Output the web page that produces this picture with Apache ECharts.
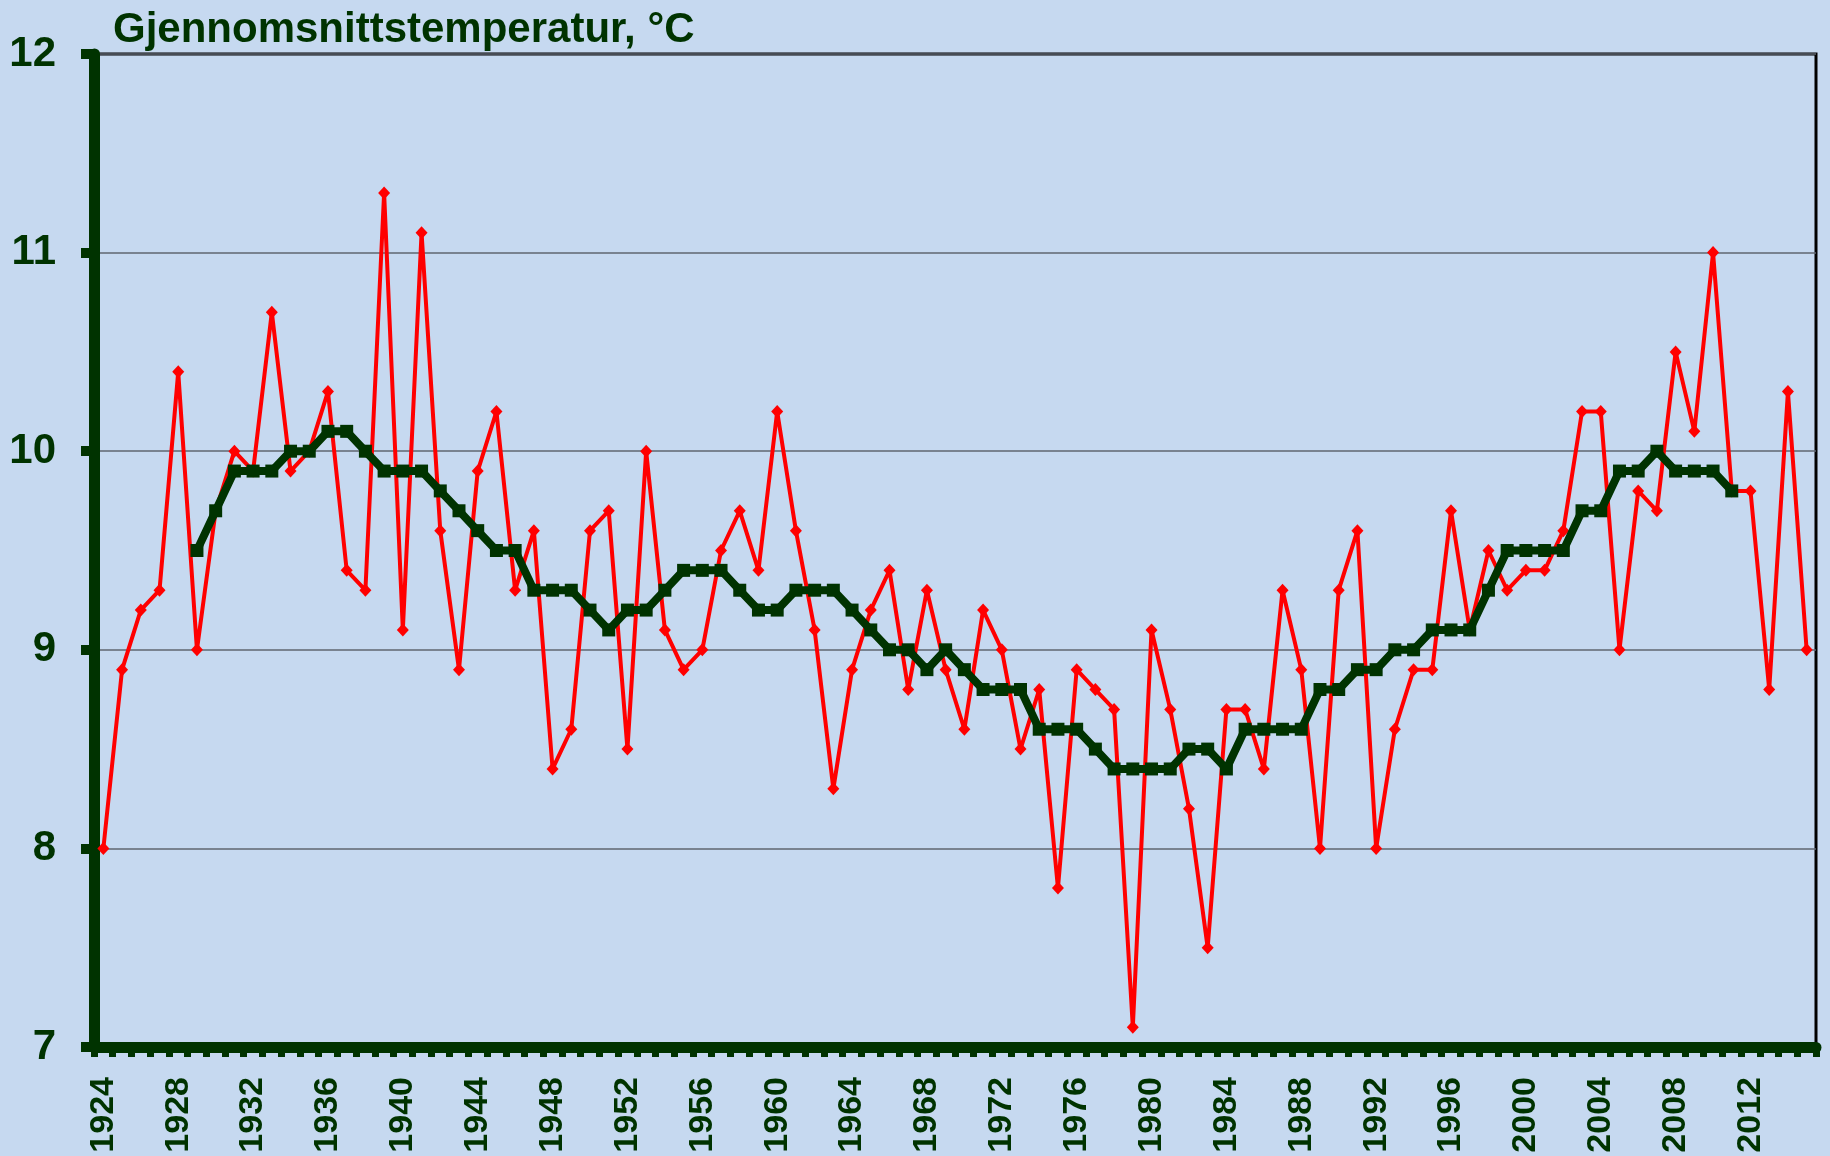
<!DOCTYPE html>
<html>
<head>
<meta charset="utf-8">
<script src="https://cdn.jsdelivr.net/npm/echarts@6/dist/echarts.min.js"></script>
<style>
html,body{margin:0;padding:0;background:#C6D9F0;}
#chart{width:1830px;height:1156px;}
</style>
</head>
<body>
<div id="chart"></div>
<script>
const titleText = 'Gjennomsnittstemperatur, °C';
const years = ['1924','1925','1926','1927','1928','1929','1930','1931','1932','1933',
'1934','1935','1936','1937','1938','1939','1940','1941','1942','1943',
'1944','1945','1946','1947','1948','1949','1950','1951','1952','1953',
'1954','1955','1956','1957','1958','1959','1960','1961','1962','1963',
'1964','1965','1966','1967','1968','1969','1970','1971','1972','1973',
'1974','1975','1976','1977','1978','1979','1980','1981','1982','1983',
'1984','1985','1986','1987','1988','1989','1990','1991','1992','1993',
'1994','1995','1996','1997','1998','1999','2000','2001','2002','2003',
'2004','2005','2006','2007','2008','2009','2010','2011','2012','2013',
'2014','2015'];
const annualTemp = [
8.0, 8.9, 9.2, 9.3, 10.4, 9.0, 9.7, 10.0, 9.9, 10.7,
9.9, 10.0, 10.3, 9.4, 9.3, 11.3, 9.1, 11.1, 9.6, 8.9,
9.9, 10.2, 9.3, 9.6, 8.4, 8.6, 9.6, 9.7, 8.5, 10.0,
9.1, 8.9, 9.0, 9.5, 9.7, 9.4, 10.2, 9.6, 9.1, 8.3,
8.9, 9.2, 9.4, 8.8, 9.3, 8.9, 8.6, 9.2, 9.0, 8.5,
8.8, 7.8, 8.9, 8.8, 8.7, 7.1, 9.1, 8.7, 8.2, 7.5,
8.7, 8.7, 8.4, 9.3, 8.9, 8.0, 9.3, 9.6, 8.0, 8.6,
8.9, 8.9, 9.7, 9.1, 9.5, 9.3, 9.4, 9.4, 9.6, 10.2,
10.2, 9.0, 9.8, 9.7, 10.5, 10.1, 11.0, 9.8, 9.8, 8.8,
10.3, 9.0];
const movingAvg = [
null, null, null, null, null,
9.5, 9.7, 9.9, 9.9, 9.9, 10.0, 10.0, 10.1, 10.1, 10.0,
9.9, 9.9, 9.9, 9.8, 9.7, 9.6, 9.5, 9.5, 9.3, 9.3,
9.3, 9.2, 9.1, 9.2, 9.2, 9.3, 9.4, 9.4, 9.4, 9.3,
9.2, 9.2, 9.3, 9.3, 9.3, 9.2, 9.1, 9.0, 9.0, 8.9,
9.0, 8.9, 8.8, 8.8, 8.8, 8.6, 8.6, 8.6, 8.5, 8.4,
8.4, 8.4, 8.4, 8.5, 8.5, 8.4, 8.6, 8.6, 8.6, 8.6,
8.8, 8.8, 8.9, 8.9, 9.0, 9.0, 9.1, 9.1, 9.1, 9.3,
9.5, 9.5, 9.5, 9.5, 9.7, 9.7, 9.9, 9.9, 10.0, 9.9,
9.9, 9.9, 9.8,
null, null, null, null];
const yMin = 7, yMax = 12, yStep = 1;

const dark = '#003300';
const chart = echarts.init(document.getElementById('chart'), null, {renderer: 'canvas'});
chart.setOption({
  backgroundColor: '#C6D9F0',
  animation: false,
  title: {
    text: titleText,
    left: 108,
    top: 4,
    textStyle: {fontFamily: 'Liberation Sans, Arial, sans-serif', fontWeight: 'bold', fontSize: 42, color: dark}
  },
  grid: {
    left: 94, right: 14, top: 54, bottom: 109,
    show: true, borderColor: '#000000', borderWidth: 3, backgroundColor: 'transparent'
  },
  xAxis: {
    type: 'category',
    data: years,
    boundaryGap: true,
    axisLine: {show: true, lineStyle: {color: dark, width: 11}},
    axisTick: {show: true, interval: 0, length: 10, lineStyle: {color: dark, width: 7}},
    axisLabel: {
      interval: 3, rotate: 90, margin: 30,
      fontFamily: 'Liberation Sans, Arial, sans-serif', fontWeight: 'bold', fontSize: 34, color: dark
    },
    splitLine: {show: false}
  },
  yAxis: {
    type: 'value',
    min: yMin, max: yMax, interval: yStep,
    axisLine: {show: true, onZero: false, lineStyle: {color: dark, width: 11}},
    axisTick: {show: true, length: 13, lineStyle: {color: dark, width: 10}},
    axisLabel: {
      margin: 38,
      fontFamily: 'Liberation Sans, Arial, sans-serif', fontWeight: 'bold', fontSize: 42, color: dark
    },
    splitLine: {show: true, lineStyle: {color: '#5f6670', width: 1.5}}
  },
  series: [
    {
      name: 'Årsmiddel',
      type: 'line',
      data: annualTemp,
      symbol: 'diamond',
      symbolSize: [12, 13],
      showAllSymbol: true,
      lineStyle: {color: '#FF0000', width: 4},
      itemStyle: {color: '#FF0000'},
      z: 3
    },
    {
      name: 'Glidende middel',
      type: 'line',
      data: movingAvg,
      symbol: 'rect',
      symbolSize: 13,
      showAllSymbol: true,
      lineStyle: {color: dark, width: 8},
      itemStyle: {color: dark},
      z: 4
    }
  ]
});
</script>
</body>
</html>
